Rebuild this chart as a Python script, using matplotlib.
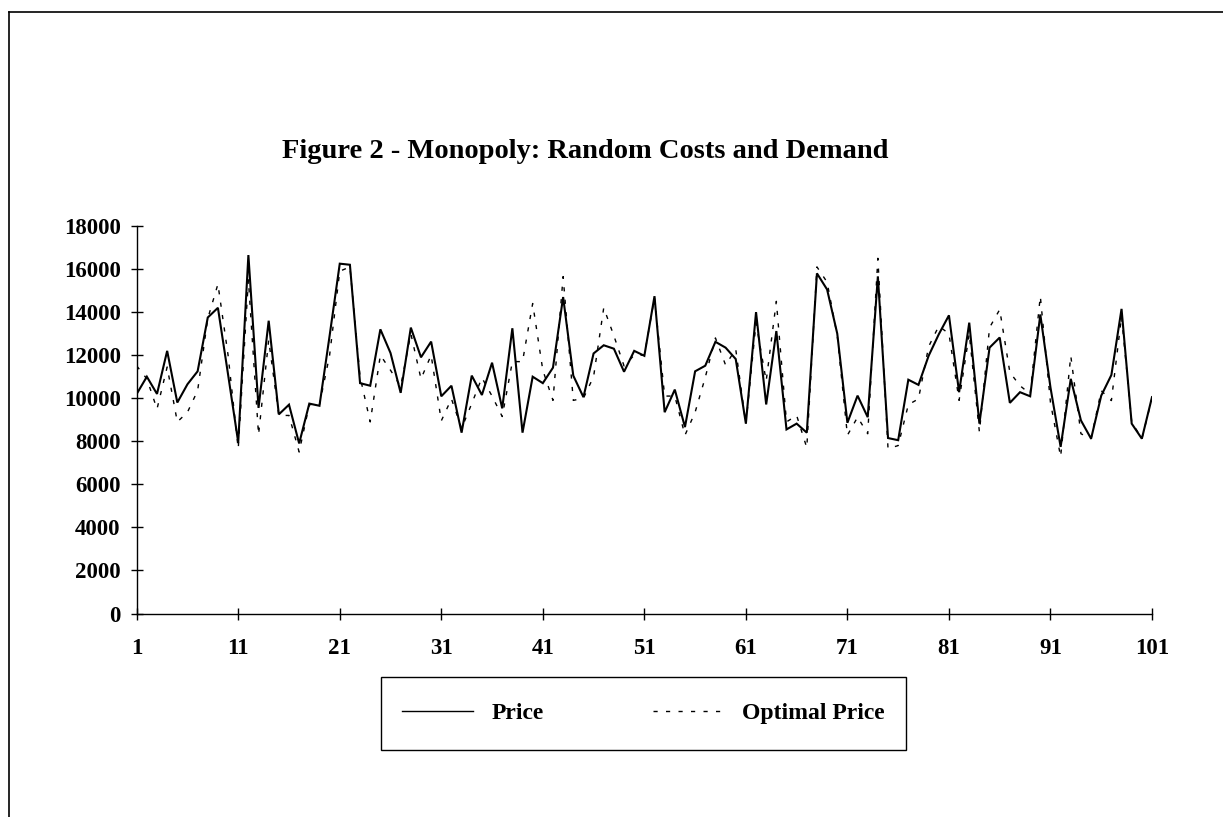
import matplotlib
matplotlib.use("Agg")
import matplotlib.pyplot as plt
from matplotlib.lines import Line2D
from matplotlib.patches import Rectangle

periods = list(range(1, 102))

price = [10200, 11000, 10200, 12200, 9800, 10650, 11250, 13750, 14200, 11100,
         7950, 16650, 9550, 13600, 9250, 9700, 7900, 9750, 9650, 12900,
         16250, 16200, 10700, 10580, 13200, 12100, 10250, 13280, 11900, 12630,
         10090, 10580, 8400, 11050, 10150, 11650, 9530, 13250, 8400, 11000,
         10700, 11420, 14700, 11050, 10050, 12080, 12460, 12300, 11230, 12200,
         11970, 14740, 9350, 10400, 8660, 11250, 11510, 12620, 12350, 11820,
         8820, 14000, 9710, 13120, 8550, 8820, 8400, 15800, 15050, 13000,
         8860, 10120, 9120, 15660, 8150, 8050, 10860, 10620, 11970, 12970,
         13850, 10280, 13510, 8820, 12350, 12820, 9785, 10280, 10090, 13890,
         10500, 7740, 10900, 8970, 8120, 10120, 11080, 14150, 8820, 8120,
         10050]

optimal_price = [11500, 10900, 9500, 11450, 8900, 9350, 10350, 13700, 15300, 12000,
                 7650, 15500, 8300, 12700, 9200, 9200, 7500, 9700, 9700, 12000,
                 15900, 16100, 11000, 8900, 12000, 11300, 10550, 13000, 10900, 12000,
                 8950, 9970, 8600, 9750, 10950, 10100, 9150, 11700, 11700, 14400,
                 11300, 9900, 15650, 9900, 10000, 11000, 14200, 12900, 11500, 12000,
                 12000, 14660, 10100, 10100, 8280, 9350, 10970, 12800, 11540, 12280,
                 8800, 13500, 10800, 14500, 8900, 9200, 7700, 16100, 15390, 12900,
                 8280, 9120, 8350, 16500, 7660, 7800, 9700, 9970, 12400, 13350,
                 13000, 9900, 13000, 8430, 13280, 14120, 11200, 10580, 10200, 14740,
                 9800, 7280, 11970, 8350, 8120, 10350, 9890, 13800, 8900, 8120,
                 10000]

x_ticks = [1, 11, 21, 31, 41, 51, 61, 71, 81, 91, 101]
y_ticks = [0, 2000, 4000, 6000, 8000, 10000, 12000, 14000, 16000, 18000]
series_labels = ["Price", "Optimal Price"]

title = "Figure 2 - Monopoly: Random Costs and Demand"
serif = ["Liberation Serif", "DejaVu Serif"]
dash_style = (0, (3, 6))

W, H = 1223, 817
fig = plt.figure(figsize=(W / 100, H / 100), dpi=100)
fig.patch.set_facecolor("white")

ax = fig.add_axes([136.7 / W, (H - 613.5) / H, (1152 - 136.7) / W, (613.5 - 226) / H])
ax.plot(periods, price, color="black", lw=1.5, solid_joinstyle="miter")
ax.plot(periods, optimal_price, color="black", lw=1.0, linestyle=dash_style)

ax.set_xlim(1, 101)
ax.set_ylim(0, 18000)
ax.set_xticks(x_ticks)
ax.set_yticks(y_ticks)
for s in ["top", "right"]:
    ax.spines[s].set_visible(False)
for s in ["left", "bottom"]:
    ax.spines[s].set_linewidth(1.0)
ax.tick_params(axis="both", direction="inout", length=9, width=1.0, colors="black")
ax.tick_params(axis="x", pad=13)
ax.tick_params(axis="y", pad=7)
for lab in ax.get_xticklabels() + ax.get_yticklabels():
    lab.set_fontfamily(serif)
    lab.set_fontweight("bold")
    lab.set_fontsize(16.5)

fig.text(585 / W, 1 - 151 / H, title, ha="center", va="center",
         fontfamily=serif, fontweight="bold", fontsize=20.5)

# legend
lx0, lx1, ly0, ly1 = 381, 906, 677, 750
fig.add_artist(Rectangle((lx0 / W, 1 - ly1 / H), (lx1 - lx0) / W, (ly1 - ly0) / H,
                         transform=fig.transFigure, fill=False, edgecolor="black", lw=1.0))
handles = [Line2D([], [], color="black", lw=1.0),
           Line2D([], [], color="black", lw=1.0, linestyle=dash_style)]
leg = fig.legend(handles, series_labels, loc="center",
                 bbox_to_anchor=((lx0 + lx1) / 2 / W, 1 - (ly0 + ly1) / 2 / H),
                 ncol=2, frameon=False, handlelength=3.0, handletextpad=0.8,
                 columnspacing=4.6, borderpad=0.5,
                 prop={"family": serif, "weight": "bold", "size": 17})

# outer frame (top and left edges visible)
fig.add_artist(Line2D([9 / W, 1.0], [1 - 12 / H, 1 - 12 / H], color="black", lw=1.2,
                      transform=fig.transFigure))
fig.add_artist(Line2D([9 / W, 9 / W], [0, 1 - 12 / H], color="black", lw=1.2,
                      transform=fig.transFigure))

fig.savefig("out.png", dpi=100, facecolor="white")
